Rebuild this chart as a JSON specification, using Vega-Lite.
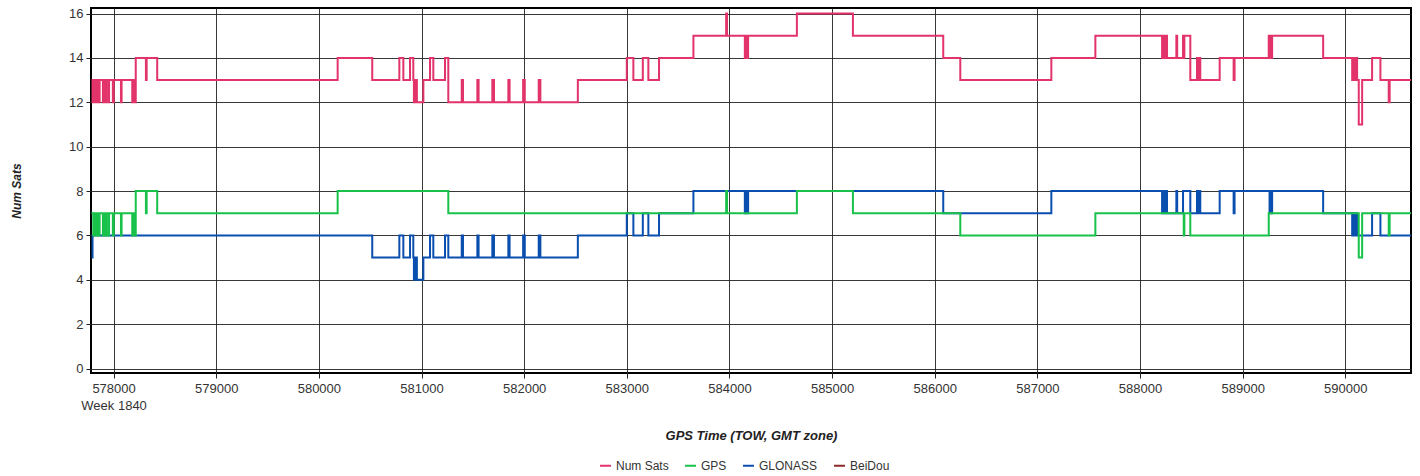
{
 "$schema": "https://vega.github.io/schema/vega-lite/v6.json",
 "width": 1320, "height": 365,
 "autosize": {"type": "none"},
 "padding": {"left": 91, "top": 8, "right": 9, "bottom": 103},
 "background": "white",
 "config": {"view": {"stroke": "#000", "strokeWidth": 2}, "font": "Liberation Sans"},
 "data": {"values": [
  {"t":577785,"GPS":7,"GLONASS":5,"Num Sats":12},
  {"t":577795,"GPS":7,"GLONASS":6,"Num Sats":13},
  {"t":577802,"GPS":6,"GLONASS":6,"Num Sats":12},
  {"t":577806,"GPS":7,"GLONASS":6,"Num Sats":13},
  {"t":577818,"GPS":6,"GLONASS":6,"Num Sats":12},
  {"t":577822,"GPS":7,"GLONASS":6,"Num Sats":13},
  {"t":577828,"GPS":6,"GLONASS":6,"Num Sats":12},
  {"t":577832,"GPS":7,"GLONASS":6,"Num Sats":13},
  {"t":577838,"GPS":6,"GLONASS":6,"Num Sats":12},
  {"t":577842,"GPS":7,"GLONASS":6,"Num Sats":13},
  {"t":577848,"GPS":6,"GLONASS":6,"Num Sats":12},
  {"t":577852,"GPS":7,"GLONASS":6,"Num Sats":13},
  {"t":577858,"GPS":6,"GLONASS":6,"Num Sats":12},
  {"t":577864,"GPS":7,"GLONASS":6,"Num Sats":13},
  {"t":577896,"GPS":6,"GLONASS":6,"Num Sats":12},
  {"t":577900,"GPS":7,"GLONASS":6,"Num Sats":13},
  {"t":577906,"GPS":6,"GLONASS":6,"Num Sats":12},
  {"t":577910,"GPS":7,"GLONASS":6,"Num Sats":13},
  {"t":577916,"GPS":6,"GLONASS":6,"Num Sats":12},
  {"t":577920,"GPS":7,"GLONASS":6,"Num Sats":13},
  {"t":577926,"GPS":6,"GLONASS":6,"Num Sats":12},
  {"t":577930,"GPS":7,"GLONASS":6,"Num Sats":13},
  {"t":577950,"GPS":6,"GLONASS":6,"Num Sats":12},
  {"t":577956,"GPS":7,"GLONASS":6,"Num Sats":13},
  {"t":577993,"GPS":6,"GLONASS":6,"Num Sats":12},
  {"t":578002,"GPS":7,"GLONASS":6,"Num Sats":13},
  {"t":578072,"GPS":6,"GLONASS":6,"Num Sats":12},
  {"t":578078,"GPS":7,"GLONASS":6,"Num Sats":13},
  {"t":578182,"GPS":6,"GLONASS":6,"Num Sats":12},
  {"t":578188,"GPS":7,"GLONASS":6,"Num Sats":13},
  {"t":578194,"GPS":6,"GLONASS":6,"Num Sats":12},
  {"t":578200,"GPS":7,"GLONASS":6,"Num Sats":13},
  {"t":578208,"GPS":6,"GLONASS":6,"Num Sats":12},
  {"t":578216,"GPS":8,"GLONASS":6,"Num Sats":14},
  {"t":578315,"GPS":7,"GLONASS":6,"Num Sats":13},
  {"t":578322,"GPS":8,"GLONASS":6,"Num Sats":14},
  {"t":578425,"GPS":7,"GLONASS":6,"Num Sats":13},
  {"t":580183,"GPS":8,"GLONASS":6,"Num Sats":14},
  {"t":580520,"GPS":8,"GLONASS":5,"Num Sats":13},
  {"t":580784,"GPS":8,"GLONASS":6,"Num Sats":14},
  {"t":580823,"GPS":8,"GLONASS":5,"Num Sats":13},
  {"t":580888,"GPS":8,"GLONASS":6,"Num Sats":14},
  {"t":580920,"GPS":8,"GLONASS":5,"Num Sats":13},
  {"t":580926,"GPS":8,"GLONASS":4,"Num Sats":12},
  {"t":580934,"GPS":8,"GLONASS":5,"Num Sats":13},
  {"t":580940,"GPS":8,"GLONASS":4,"Num Sats":12},
  {"t":580948,"GPS":8,"GLONASS":5,"Num Sats":13},
  {"t":580955,"GPS":8,"GLONASS":4,"Num Sats":12},
  {"t":581018,"GPS":8,"GLONASS":5,"Num Sats":13},
  {"t":581083,"GPS":8,"GLONASS":6,"Num Sats":14},
  {"t":581115,"GPS":8,"GLONASS":5,"Num Sats":13},
  {"t":581229,"GPS":8,"GLONASS":6,"Num Sats":14},
  {"t":581261,"GPS":7,"GLONASS":5,"Num Sats":12},
  {"t":581392,"GPS":7,"GLONASS":6,"Num Sats":13},
  {"t":581404,"GPS":7,"GLONASS":5,"Num Sats":12},
  {"t":581544,"GPS":7,"GLONASS":6,"Num Sats":13},
  {"t":581556,"GPS":7,"GLONASS":5,"Num Sats":12},
  {"t":581690,"GPS":7,"GLONASS":6,"Num Sats":13},
  {"t":581706,"GPS":7,"GLONASS":5,"Num Sats":12},
  {"t":581846,"GPS":7,"GLONASS":6,"Num Sats":13},
  {"t":581858,"GPS":7,"GLONASS":5,"Num Sats":12},
  {"t":581990,"GPS":7,"GLONASS":6,"Num Sats":13},
  {"t":582006,"GPS":7,"GLONASS":5,"Num Sats":12},
  {"t":582142,"GPS":7,"GLONASS":6,"Num Sats":13},
  {"t":582158,"GPS":7,"GLONASS":5,"Num Sats":12},
  {"t":582523,"GPS":7,"GLONASS":6,"Num Sats":13},
  {"t":583000,"GPS":7,"GLONASS":7,"Num Sats":14},
  {"t":583064,"GPS":7,"GLONASS":6,"Num Sats":13},
  {"t":583156,"GPS":7,"GLONASS":7,"Num Sats":14},
  {"t":583210,"GPS":7,"GLONASS":6,"Num Sats":13},
  {"t":583314,"GPS":7,"GLONASS":7,"Num Sats":14},
  {"t":583649,"GPS":7,"GLONASS":8,"Num Sats":15},
  {"t":583968,"GPS":8,"GLONASS":8,"Num Sats":16},
  {"t":583976,"GPS":7,"GLONASS":8,"Num Sats":15},
  {"t":584150,"GPS":7,"GLONASS":7,"Num Sats":14},
  {"t":584158,"GPS":7,"GLONASS":8,"Num Sats":15},
  {"t":584163,"GPS":7,"GLONASS":7,"Num Sats":14},
  {"t":584182,"GPS":7,"GLONASS":8,"Num Sats":15},
  {"t":584657,"GPS":8,"GLONASS":8,"Num Sats":16},
  {"t":585203,"GPS":7,"GLONASS":8,"Num Sats":15},
  {"t":586083,"GPS":7,"GLONASS":7,"Num Sats":14},
  {"t":586249,"GPS":6,"GLONASS":7,"Num Sats":13},
  {"t":587136,"GPS":6,"GLONASS":8,"Num Sats":14},
  {"t":587565,"GPS":7,"GLONASS":8,"Num Sats":15},
  {"t":588215,"GPS":7,"GLONASS":7,"Num Sats":14},
  {"t":588222,"GPS":7,"GLONASS":8,"Num Sats":15},
  {"t":588230,"GPS":7,"GLONASS":7,"Num Sats":14},
  {"t":588238,"GPS":7,"GLONASS":8,"Num Sats":15},
  {"t":588245,"GPS":7,"GLONASS":7,"Num Sats":14},
  {"t":588252,"GPS":7,"GLONASS":8,"Num Sats":15},
  {"t":588263,"GPS":7,"GLONASS":7,"Num Sats":14},
  {"t":588354,"GPS":7,"GLONASS":8,"Num Sats":15},
  {"t":588362,"GPS":7,"GLONASS":7,"Num Sats":14},
  {"t":588419,"GPS":7,"GLONASS":8,"Num Sats":15},
  {"t":588426,"GPS":6,"GLONASS":8,"Num Sats":14},
  {"t":588432,"GPS":7,"GLONASS":8,"Num Sats":15},
  {"t":588490,"GPS":6,"GLONASS":7,"Num Sats":13},
  {"t":588555,"GPS":6,"GLONASS":8,"Num Sats":14},
  {"t":588565,"GPS":6,"GLONASS":7,"Num Sats":13},
  {"t":588572,"GPS":6,"GLONASS":8,"Num Sats":14},
  {"t":588587,"GPS":6,"GLONASS":7,"Num Sats":13},
  {"t":588776,"GPS":6,"GLONASS":8,"Num Sats":14},
  {"t":588912,"GPS":6,"GLONASS":7,"Num Sats":13},
  {"t":588921,"GPS":6,"GLONASS":8,"Num Sats":14},
  {"t":589254,"GPS":7,"GLONASS":8,"Num Sats":15},
  {"t":589262,"GPS":7,"GLONASS":7,"Num Sats":14},
  {"t":589270,"GPS":7,"GLONASS":8,"Num Sats":15},
  {"t":589278,"GPS":7,"GLONASS":7,"Num Sats":14},
  {"t":589287,"GPS":7,"GLONASS":8,"Num Sats":15},
  {"t":589784,"GPS":7,"GLONASS":7,"Num Sats":14},
  {"t":590067,"GPS":7,"GLONASS":6,"Num Sats":13},
  {"t":590075,"GPS":7,"GLONASS":7,"Num Sats":14},
  {"t":590083,"GPS":7,"GLONASS":6,"Num Sats":13},
  {"t":590091,"GPS":7,"GLONASS":7,"Num Sats":14},
  {"t":590099,"GPS":7,"GLONASS":6,"Num Sats":13},
  {"t":590107,"GPS":7,"GLONASS":7,"Num Sats":14},
  {"t":590115,"GPS":7,"GLONASS":6,"Num Sats":13},
  {"t":590131,"GPS":5,"GLONASS":6,"Num Sats":11},
  {"t":590164,"GPS":7,"GLONASS":6,"Num Sats":13},
  {"t":590261,"GPS":7,"GLONASS":7,"Num Sats":14},
  {"t":590342,"GPS":7,"GLONASS":6,"Num Sats":13},
  {"t":590423,"GPS":6,"GLONASS":6,"Num Sats":12},
  {"t":590432,"GPS":7,"GLONASS":6,"Num Sats":13},
  {"t":590640,"GPS":7,"GLONASS":6,"Num Sats":13}
 ]},
 "transform": [{"fold": ["Num Sats", "GPS", "GLONASS"], "as": ["series", "value"]}],
 "encoding": {
  "x": {"field": "t", "type": "quantitative",
   "scale": {"domain": [577780, 590640], "nice": false, "zero": false},
   "axis": {"title": "GPS Time (TOW, GMT zone)",
    "values": [578000,579000,580000,581000,582000,583000,584000,585000,586000,587000,588000,589000,590000],
    "format": "d",
    "labelExpr": "datum.value == 578000 ? ['578000', 'Week 1840'] : datum.label",
    "grid": true, "gridColor": "#222", "gridOpacity": 0.9, "gridWidth": 1,
    "domain": false, "tickColor": "#222", "tickSize": 5,
    "labelFontSize": 13, "labelColor": "#333", "labelPadding": 4, "labelLineHeight": 17,
    "labelFont": "Liberation Sans",
    "titleFontSize": 13, "titleFontStyle": "italic", "titleFontWeight": "bold", "titleColor": "#222",
    "titleFont": "Liberation Sans", "titlePadding": 17}},
  "y": {"field": "value", "type": "quantitative",
   "scale": {"domain": [-0.2, 16.25], "nice": false, "zero": false},
   "axis": {"title": "Num Sats", "values": [0,2,4,6,8,10,12,14,16],
    "grid": true, "gridColor": "#222", "gridOpacity": 0.9, "gridWidth": 1,
    "domain": false, "tickColor": "#222", "tickSize": 5,
    "labelFontSize": 13, "labelColor": "#333", "labelPadding": 3, "labelFont": "Liberation Sans",
    "titleFontSize": 12, "titleFontStyle": "italic", "titleFontWeight": "bold", "titleColor": "#222",
    "titleFont": "Liberation Sans", "titlePadding": 45}},
  "color": {"field": "series", "type": "nominal",
   "scale": {"domain": ["Num Sats", "GPS", "GLONASS", "BeiDou"], "range": ["#e2336b", "#18c24a", "#0a4fb0", "#8c2a2a"]},
   "legend": {"title": null, "orient": "none", "legendX": 508, "legendY": 451, "direction": "horizontal",
    "symbolType": "stroke", "symbolStrokeWidth": 2, "symbolSize": 120,
    "labelFontSize": 12, "labelColor": "#333", "labelFont": "Liberation Sans", "columnPadding": 12}}
 },
 "layer": [
  {"transform": [{"filter": "datum.series === 'GLONASS'"}], "mark": {"type": "line", "interpolate": "step-after", "strokeWidth": 2}},
  {"transform": [{"filter": "datum.series === 'GPS'"}], "mark": {"type": "line", "interpolate": "step-after", "strokeWidth": 2}},
  {"transform": [{"filter": "datum.series === 'Num Sats'"}], "mark": {"type": "line", "interpolate": "step-after", "strokeWidth": 2}}
 ]
}
